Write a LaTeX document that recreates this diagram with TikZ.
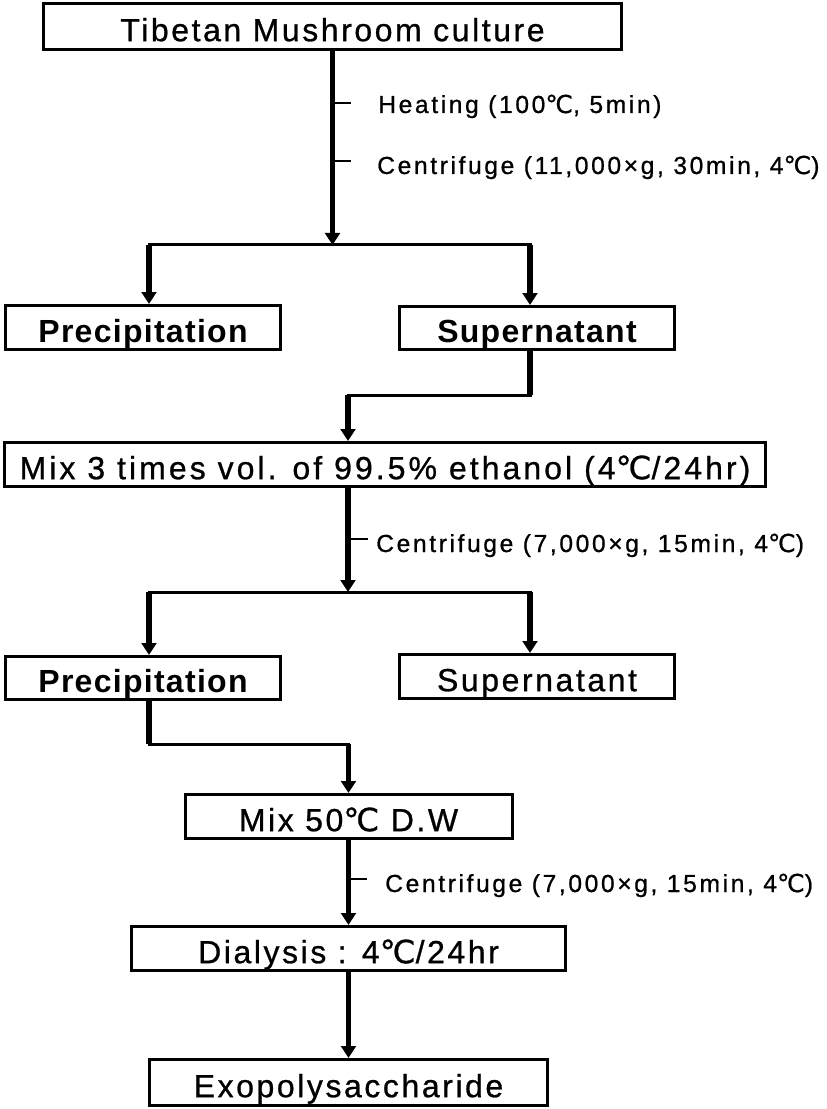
\documentclass[tikz,border=0pt]{standalone}
\usepackage{fontspec}
\setmainfont{Liberation Sans}
\newfontfamily\boxfnt[LetterSpace=8,FakeBold=0.8]{Liberation Sans}
\newfontfamily\bboxfnt[LetterSpace=4]{Liberation Sans}
\newfontfamily\labfnt[LetterSpace=10.5,FakeBold=0.8]{Liberation Sans}
\newfontfamily\djv[FakeBold=0.8]{DejaVu Sans}
\newcommand{\dgc}{{\djv ℃}}
\usetikzlibrary{arrows.meta}
\begin{document}
\begin{tikzpicture}[x=0.75pt,y=-0.75pt,
  box/.style={draw, line width=2.25pt, inner sep=0pt, text height=22pt, text depth=0pt,
    font=\boxfnt\fontsize{24}{26}\selectfont},
  bbox/.style={box, font=\bboxfnt\bfseries\fontsize{24}{26}\selectfont},
  lab/.style={inner sep=0pt, anchor=base west, font=\labfnt\fontsize{18.5}{21}\selectfont},
  vl/.style={line width=3.8pt},
  hl/.style={line width=2.25pt, line cap=rect},
  tk/.style={line width=2pt},
  arr/.style={-{Triangle[length=9pt,width=11pt]}}]
\fill[white] (0,0) rectangle (827,1109);
\useasboundingbox (0,0) rectangle (827,1109);

% boxes
\node[box, minimum width=433.5pt, minimum height=34.5pt] (tib) at (332.5,26.5) {Tibetan Mushroom culture};
\node[bbox, minimum width=206.25pt, minimum height=33pt] (p1) at (143,327.5) {Precipitation};
\node[bbox, minimum width=206.25pt, minimum height=32.25pt] (s1) at (537,328) {Supernatant};
\node[box, minimum width=570.75pt, minimum height=33pt] (mix) at (385,464.5) {\addfontfeatures{LetterSpace=9.5}Mix 3 times vol. of 99.5\% ethanol (4\dgc/24hr)};
\node[bbox, minimum width=206.25pt, minimum height=32.25pt] (p2) at (143,678) {Precipitation};
\node[box, minimum width=206.25pt, minimum height=33pt] (s2) at (537,676.5) {Supernatant};
\node[box, minimum width=245.25pt, minimum height=33pt] (mixf) at (348.5,816.5) {Mix 50\dgc{} D.W};
\node[box, minimum width=325.5pt, minimum height=33pt] (dia) at (348.5,948.5) {Dialysis : 4\dgc/24hr};
\node[box, minimum width=298.5pt, minimum height=34.5pt] (exo) at (348.5,1082.5) {Exopolysaccharide};

% labels
\node[lab] (l1) at (378,113) {Heating (100\dgc, 5min)};
\node[lab] (l2) at (377,174) {Centrifuge (11,000×g, 30min, 4\dgc)};
\node[lab] (l3) at (376,552) {Centrifuge (7,000×g, 15min, 4\dgc)};
\node[lab] (l4) at (385,892) {Centrifuge (7,000×g, 15min, 4\dgc)};

% junction coordinates
\coordinate (j1) at (332.5,245);
\coordinate (j1l) at (149,245);
\coordinate (j1r) at (530,245);
\coordinate (k1) at (530,395);
\coordinate (k2) at (348,395);
\coordinate (j2) at (348,592);
\coordinate (j2l) at (149,592);
\coordinate (j2r) at (530,592);
\coordinate (m1) at (149,744);
\coordinate (m2) at (348.5,744);
\coordinate (t1) at (332.5,103);
\coordinate (t2) at (332.5,161);
\coordinate (t3) at (348,539);
\coordinate (t4) at (348.5,879);

% connectors
\draw[vl,arr] (tib.south) -- (j1);
\draw[hl] (j1l) -- (j1r);
\draw[vl,arr] (j1l) -- (j1l |- p1.north);
\draw[vl,arr] (j1r) -- (j1r |- s1.north);

\draw[vl] (j1r |- s1.south) -- (k1);
\draw[hl] (k1) -- (k2);
\draw[vl,arr] (k2) -- (k2 |- mix.north);

\draw[vl,arr] (j2 |- mix.south) -- (j2);
\draw[hl] (j2l) -- (j2r);
\draw[vl,arr] (j2l) -- (j2l |- p2.north);
\draw[vl,arr] (j2r) -- (j2r |- s2.north);

\draw[vl] (m1 |- p2.south) -- (m1);
\draw[hl] (m1) -- (m2);
\draw[vl,arr] (m2) -- (mixf.north);
\draw[vl,arr] (mixf.south) -- (dia.north);
\draw[vl,arr] (dia.south) -- (exo.north);

% ticks
\draw[tk] (t1) -- ++(18,0);
\draw[tk] (t2) -- ++(18,0);
\draw[tk] (t3) -- ++(20,0);
\draw[tk] (t4) -- ++(18,0);
\end{tikzpicture}
\end{document}
